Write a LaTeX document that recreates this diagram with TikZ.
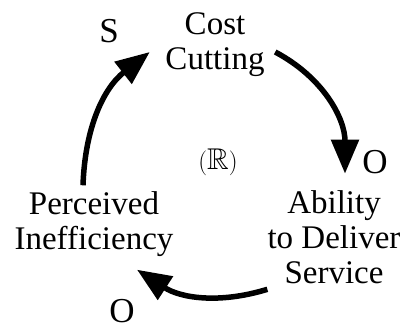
\documentclass[tikz,border=0pt]{standalone}
\usepackage{fontspec}
\usepackage{amssymb}
\setmainfont{Liberation Serif}
\usetikzlibrary{arrows.meta}
\begin{document}
\begin{tikzpicture}[x=1pt,y=1pt,
    var/.style={align=center,inner sep=0pt,font=\fontsize{33}{35}\selectfont},
    sign/.style={inner sep=0pt,font=\fontsize{35}{35}\selectfont},
    link/.style={line width=5.5pt,-{Triangle[length=34pt,width=27pt]}}]
    \useasboundingbox (0,0) rectangle (404,331);
    \node[var](cost) at (215,286.5) {Cost\\Cutting};
    \node[var](ability) at (334,93.5) {Ability\\to Deliver\\Service};
    \node[var](perceived) at (94,107) {Perceived\\Inefficiency};
    \node(loop) at (218,169) {\fontsize{30}{30}\selectfont$(\mathbb{R})$};
    \node[sign](s) at (109,300) {S};
    \node[sign](o1) at (375,169) {O};
    \node[sign](o2) at (122,20) {O};

    \draw[link]([xshift=10.5pt,yshift=-7.5pt]cost.east) to[out=-28,in=90] ([xshift=11pt,yshift=17pt]ability.north);
    \draw[link]([yshift=-5pt]ability.south west) to[out=197,in=-33] ([xshift=43pt,yshift=-13pt]perceived.south);
    \draw[link]([xshift=-11pt,yshift=6pt]perceived.north) to[out=88,in=218] ([xshift=-15.5pt,yshift=-7.5pt]cost.west);
\end{tikzpicture}
\end{document}
